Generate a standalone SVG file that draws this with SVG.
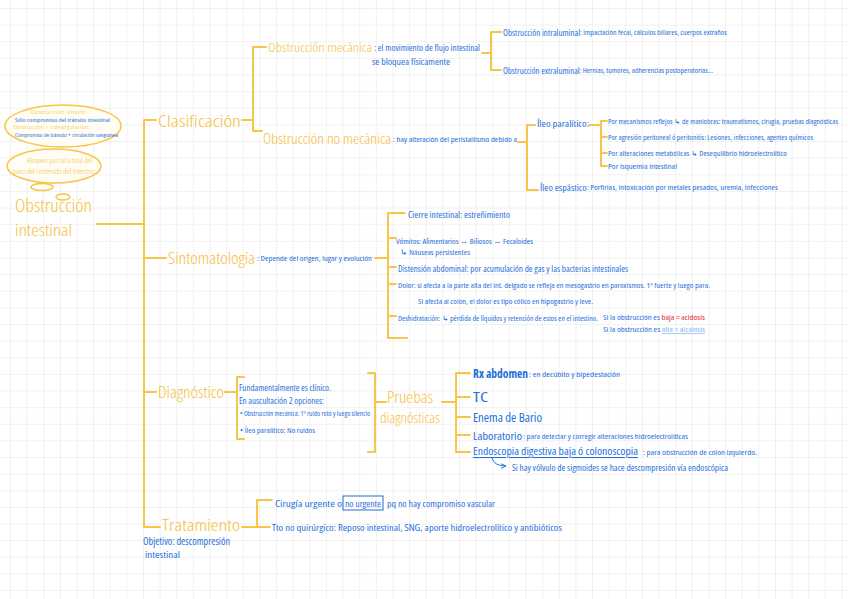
<svg xmlns="http://www.w3.org/2000/svg" width="848" height="599" viewBox="0 0 848 599">
<defs>
<pattern id="grid" x="10" y="8" width="16.63" height="16.63" patternUnits="userSpaceOnUse">
<path d="M0 0H16.63M0 0V16.63" stroke="#e4e4e4" stroke-width="1" fill="none"/>
</pattern>
<marker id="arr" viewBox="0 0 10 10" refX="9" refY="5" markerWidth="6" markerHeight="6" orient="auto">
<path d="M0 1L9 5L0 9" fill="none" stroke="#1f6fdc" stroke-width="1.5"/>
</marker>
<style>
text{font-family:"Open Sans","Roboto Condensed","Liberation Sans",sans-serif;font-stretch:condensed;dominant-baseline:central}
.y{fill:#f6c03a;font-weight:300}
.b{fill:#1f6fdc}
.ln{stroke:#f7c548;stroke-width:2;fill:none;stroke-linecap:round;stroke-linejoin:round}
.bub{fill:#fffdf4;stroke:#f7c548;stroke-width:1.5}
</style>
</defs>
<rect width="848" height="599" fill="#ffffff"/>
<rect width="848" height="599" fill="url(#grid)"/>

<g id="connectors">
<path class="ln" d="M97 224H144"/>
<path class="ln" d="M156 120H144V527H160"/>
<path class="ln" d="M144 258H166"/>
<path class="ln" d="M144 392H156"/>
<path class="ln" d="M242 120H253"/>
<path class="ln" d="M266 47H253V131H262"/>
<path class="ln" d="M482 53H491"/>
<path class="ln" d="M501 32H491V70H501"/>
<path class="ln" d="M518 142H527"/>
<path class="ln" d="M535 125H527V190H538"/>
<path class="ln" d="M589 125H601"/>
<path class="ln" d="M607 121H601V166H607M601 137H607M601 153H607"/>
<path class="ln" d="M375 258H388"/>
<path class="ln" d="M405 213H388V338H407M388 238H396M388 267H396M388 284H396M388 316H396"/>
<path class="ln" d="M225 392H237"/>
<path class="ln" d="M244 377H237V439H244"/>
<path class="ln" d="M368 373H375V452H368M375 402H386"/>
<path class="ln" d="M442 402H456"/>
<path class="ln" d="M470 373H456V452H470M456 397H470M456 417H470M456 435H470"/>
<path class="ln" d="M242 527H257"/>
<path class="ln" d="M272 500H257V527H270"/>
<path d="M492 458Q494 466 506 466" fill="none" stroke="#1f6fdc" stroke-width="1" marker-end="url(#arr)"/>
</g>

<g id="notes">
<ellipse class="bub" cx="63" cy="126" rx="58" ry="21"/>
<text class="y" x="30" y="112" font-size="5.4" textLength="57" lengthAdjust="spacingAndGlyphs">Obstrucción simple:</text>
<text class="b" x="15" y="119.5" font-size="5.4" textLength="95" lengthAdjust="spacingAndGlyphs">Sólo compromiso del tránsito intestinal</text>
<text class="y" x="13" y="127" font-size="5.4" textLength="77" lengthAdjust="spacingAndGlyphs">Obstrucción + estrangulación:</text>
<text class="b" x="15" y="134.5" font-size="5.4" textLength="103" lengthAdjust="spacingAndGlyphs">Compromiso de tránsito + circulación sanguínea</text>
<ellipse class="bub" cx="54" cy="166" rx="47" ry="17"/>
<text class="y" x="27" y="160" font-size="6.3" textLength="65" lengthAdjust="spacingAndGlyphs">Bloqueo parcial o total del</text>
<text class="y" x="13" y="171" font-size="6.5" textLength="82" lengthAdjust="spacingAndGlyphs">paso del contenido del intestino</text>
<ellipse class="bub" cx="42" cy="187" rx="11" ry="3.5"/>
<ellipse class="bub" cx="63" cy="197" rx="7" ry="3"/>
</g>

<g id="root">
<text class="y" x="15" y="205" font-size="17.5" textLength="77" lengthAdjust="spacingAndGlyphs">Obstrucción</text>
<text class="y" x="15" y="229" font-size="16.5" textLength="57" lengthAdjust="spacingAndGlyphs">intestinal</text>
</g>

<g id="clasificacion">
<text class="y" x="158" y="120" font-size="16.5" textLength="83" lengthAdjust="spacingAndGlyphs">Clasificación</text>
</g>

<g id="obs-mecanica">
<text class="y" x="268" y="47" font-size="13.5" textLength="104" lengthAdjust="spacingAndGlyphs">Obstrucción mecánica</text>
<text class="b" x="374" y="47" font-size="8" textLength="106" lengthAdjust="spacingAndGlyphs">: el movimiento de flujo intestinal</text>
<text class="b" x="372" y="61" font-size="8.5" textLength="78" lengthAdjust="spacingAndGlyphs">se bloquea físicamente</text>
</g>
<g id="intraluminal">
<text class="b" x="503" y="32" font-size="7" textLength="224" lengthAdjust="spacingAndGlyphs"><tspan font-size="8">Obstrucción intraluminal</tspan>: impactación fecal, cálculos biliares, cuerpos extraños</text>
</g>
<g id="extraluminal">
<text class="b" x="503" y="70" font-size="7" textLength="210" lengthAdjust="spacingAndGlyphs"><tspan font-size="8">Obstrucción extraluminal</tspan>: Hernias, tumores, adherencias postoperatorias...</text>
</g>

<g id="obs-no-mecanica">
<text class="y" x="263" y="138" font-size="14" textLength="128" lengthAdjust="spacingAndGlyphs">Obstrucción no mecánica</text>
<text class="b" x="393" y="139" font-size="7.5" textLength="124" lengthAdjust="spacingAndGlyphs">: hay alteración del peristaltismo debido a</text>
</g>
<g id="ileo-paralitico">
<text class="b" x="537" y="123" font-size="8.5" textLength="52" lengthAdjust="spacingAndGlyphs">Íleo paralítico:</text>
<text class="b" x="608" y="121" font-size="7" textLength="230" lengthAdjust="spacingAndGlyphs">Por mecanismos reflejos ↳ de maniobras: traumatismos, cirugía, pruebas diagnósticas</text>
<text class="b" x="608" y="137" font-size="6.8" textLength="205" lengthAdjust="spacingAndGlyphs">Por agresión peritoneal ó peritonitis: Lesiones, infecciones, agentes químicos</text>
<text class="b" x="608" y="153" font-size="7.2" textLength="179" lengthAdjust="spacingAndGlyphs">Por alteraciones metabólicas ↳ Desequilibrio hidroelectrolítico</text>
<text class="b" x="608" y="166" font-size="7.5" textLength="69" lengthAdjust="spacingAndGlyphs">Por isquemia intestinal</text>
</g>
<g id="ileo-espastico">
<text class="b" x="540" y="187" font-size="7.3" textLength="238" lengthAdjust="spacingAndGlyphs"><tspan font-size="8.5">Íleo espástico</tspan>: Porfirias, intoxicación por metales pesados, uremia, infecciones</text>
</g>

<g id="sintomatologia">
<text class="y" x="168" y="257" font-size="16.5" textLength="87" lengthAdjust="spacingAndGlyphs">Sintomatología</text>
<text class="b" x="257" y="258" font-size="7.6" textLength="115" lengthAdjust="spacingAndGlyphs">: Depende del origen, lugar y evolución</text>
</g>
<g id="sintomas">
<text class="b" x="408" y="214" font-size="8.2" textLength="102" lengthAdjust="spacingAndGlyphs">Cierre intestinal: estreñimiento</text>
<text class="b" x="396" y="241" font-size="7.8" textLength="137" lengthAdjust="spacingAndGlyphs">Vómitos: Alimentarios → Biliosos → Fecaloides</text>
<text class="b" x="400" y="252" font-size="7.5" textLength="70" lengthAdjust="spacingAndGlyphs">↳ Náuseas persistentes</text>
<text class="b" x="398" y="268" font-size="8" textLength="230" lengthAdjust="spacingAndGlyphs">Distensión abdominal: por acumulación de gas y las bacterias intestinales</text>
<text class="b" x="398" y="285" font-size="7.1" textLength="312" lengthAdjust="spacingAndGlyphs">Dolor: si afecta a la parte alta del int. delgado se refleja en mesogastrio en paroxismos. 1º fuerte y luego para.</text>
<text class="b" x="418" y="301" font-size="6.9" textLength="175" lengthAdjust="spacingAndGlyphs">Si afecta al colon, el dolor es tipo cólico en hipogastrio y leve.</text>
<text class="b" x="398" y="318" font-size="6.8" textLength="200" lengthAdjust="spacingAndGlyphs">Deshidratación: ↳ pérdida de líquidos y retención de estos en el intestino.</text>
<text class="b" x="603" y="317" font-size="7.2" textLength="102" lengthAdjust="spacingAndGlyphs">Si la obstrucción es <tspan fill="#e3262b">baja = acidosis</tspan></text>
<text class="b" x="603" y="329" font-size="7.2" textLength="102" lengthAdjust="spacingAndGlyphs">Si la obstrucción es <tspan fill="#86b6f0" text-decoration="underline">alta = alcalosis</tspan></text>
</g>

<g id="diagnostico">
<text class="y" x="158" y="391" font-size="16.5" textLength="66" lengthAdjust="spacingAndGlyphs">Diagnóstico</text>
<text class="b" x="239" y="387" font-size="8" textLength="92" lengthAdjust="spacingAndGlyphs">Fundamentalmente es clínico.</text>
<text class="b" x="239" y="400" font-size="8" textLength="85" lengthAdjust="spacingAndGlyphs">En auscultación 2 opciones:</text>
<text class="b" x="240" y="413" font-size="6.3" textLength="130" lengthAdjust="spacingAndGlyphs">• Obstrucción mecánica: 1º ruido roto y luego silencio</text>
<text class="b" x="240" y="430" font-size="7" textLength="75" lengthAdjust="spacingAndGlyphs">• Íleo paralítico: No ruidos</text>
</g>

<g id="pruebas">
<text class="y" x="387" y="397" font-size="16" textLength="46" lengthAdjust="spacingAndGlyphs">Pruebas</text>
<text class="y" x="380" y="417" font-size="15" textLength="60" lengthAdjust="spacingAndGlyphs">diagnósticas</text>
</g>
<g id="rx">
<text class="b" x="473" y="373" font-size="12" font-weight="bold" textLength="55" lengthAdjust="spacingAndGlyphs">Rx abdomen</text>
<text class="b" x="529" y="374" font-size="7.5" textLength="91" lengthAdjust="spacingAndGlyphs">: en decúbito y bipedestación</text>
</g>
<g id="tc">
<text class="b" x="473" y="396" font-size="14" textLength="15" lengthAdjust="spacingAndGlyphs">TC</text>
</g>
<g id="enema">
<text class="b" x="473" y="417" font-size="12" textLength="69" lengthAdjust="spacingAndGlyphs">Enema de Bario</text>
</g>
<g id="laboratorio">
<text class="b" x="473" y="435" font-size="11" textLength="49" lengthAdjust="spacingAndGlyphs">Laboratorio</text>
<text class="b" x="523" y="436" font-size="7.2" textLength="165" lengthAdjust="spacingAndGlyphs">: para detectar y corregir alteraciones hidroelectrolíticas</text>
</g>
<g id="endoscopia">
<text class="b" x="473" y="451" font-size="10.5" text-decoration="underline" textLength="165" lengthAdjust="spacingAndGlyphs">Endoscopia digestiva baja ó colonoscopia</text>
<text class="b" x="643" y="452" font-size="7.5" textLength="114" lengthAdjust="spacingAndGlyphs">: para obstrucción de colon izquierdo.</text>
<text class="b" x="512" y="467" font-size="8.4" textLength="216" lengthAdjust="spacingAndGlyphs">Si hay vólvulo de sigmoides se hace descompresión vía endoscópica</text>
</g>

<g id="tratamiento">
<text class="y" x="162" y="524" font-size="17" textLength="78" lengthAdjust="spacingAndGlyphs">Tratamiento</text>
<text class="b" x="143" y="541" font-size="10" textLength="87" lengthAdjust="spacingAndGlyphs">Objetivo: descompresión</text>
<text class="b" x="145" y="554" font-size="9" textLength="35" lengthAdjust="spacingAndGlyphs">intestinal</text>
</g>
<g id="cirugia">
<text class="b" x="275" y="503" font-size="9.5" textLength="67" lengthAdjust="spacingAndGlyphs">Cirugía urgente o</text>
<rect x="343" y="496" width="40" height="14" fill="none" stroke="#1f6fdc" stroke-width="1"/>
<text class="b" x="345" y="503" font-size="9.5" textLength="36" lengthAdjust="spacingAndGlyphs">no urgente</text>
<text class="b" x="387" y="503" font-size="9.5" textLength="108" lengthAdjust="spacingAndGlyphs">pq no hay compromiso vascular</text>
</g>
<g id="tto-no-quirurgico">
<text class="b" x="272" y="527" font-size="9" textLength="290" lengthAdjust="spacingAndGlyphs">Tto no quirúrgico: Reposo intestinal, SNG, aporte hidroelectrolítico y antibióticos</text>
</g>
</svg>
